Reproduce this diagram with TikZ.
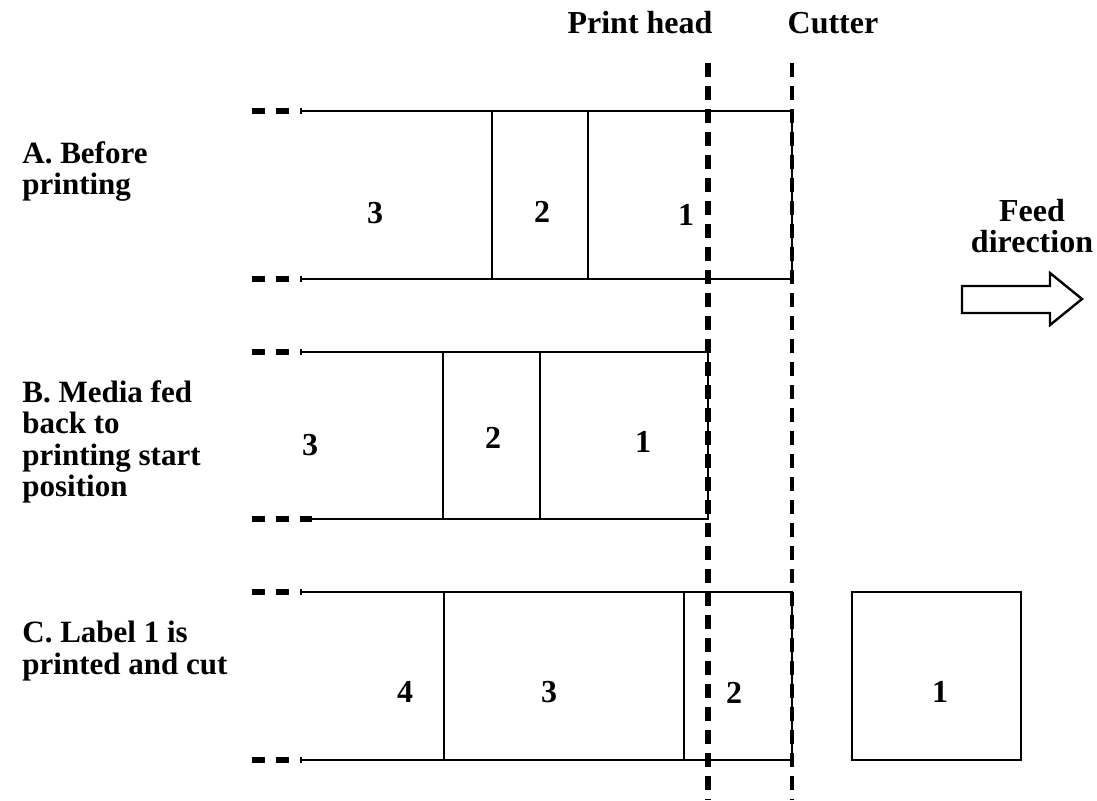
\documentclass[tikz,border=0pt]{standalone}
\usepackage{fontspec}
\setmainfont{Liberation Serif}
\usetikzlibrary{positioning}

\tikzset{
  media/.style={line width=1.2pt},
  leader/.style={line width=3pt, dash pattern=on 6.5pt off 5.5pt},
  headline/.style={line width=3pt, dash pattern=on 7pt off 4.5pt},
  cutline/.style={line width=1.7pt, dash pattern=on 7pt off 4.5pt},
  num/.style={inner sep=0pt, font=\fontsize{16}{15.5}\selectfont\bfseries},
  caption/.style={inner sep=0pt, align=left, font=\fontsize{15.5}{15.75}\selectfont\bfseries}
}

\begin{document}
\begin{tikzpicture}[x=0.5pt, y=-0.5pt]
\useasboundingbox (0,0) rectangle (1097,800);

% headings
\node[num, anchor=base] (head) at (640,33) {Print head};
\node[num, anchor=base] (cut) at (833,33) {Cutter};

% row A
\node[caption, anchor=north west] (capA) at (22,141) {A. Before\\printing};
\draw[leader] (252,111) -- (302,111);
\draw[leader] (252,279) -- (302,279);
\draw[media] (300,111) -- (792,111) -- (792,279) -- (300,279);
\draw[media] (492,111) -- (492,279);
\draw[media] (588,111) -- (588,279);
\node[num] (a3) at (375,213) {3};
\node[num] (a2) at (542,212) {2};
\node[num] (a1) at (686,215) {1};

% row B
\node[caption, anchor=north west] (capB) at (22,380) {B. Media fed\\back to\\printing start\\position};
\draw[leader] (252,352) -- (302,352);
\draw[leader] (252,519) -- (312,519);
\draw[media] (300,352) -- (708,352) -- (708,519) -- (300,519);
\draw[media] (443,352) -- (443,519);
\draw[media] (540,352) -- (540,519);
\node[num] (b3) at (310,445) {3};
\node[num] (b2) at (493,438) {2};
\node[num] (b1) at (643,442) {1};

% row C
\node[caption, anchor=north west] (capC) at (22,621) {C. Label 1 is\\printed and cut};
\draw[leader] (252,592) -- (302,592);
\draw[leader] (252,760) -- (302,760);
\draw[media] (300,592) -- (792,592) -- (792,760) -- (300,760);
\draw[media] (444,592) -- (444,760);
\draw[media] (684,592) -- (684,760);
\node[num] (c4) at (405,692) {4};
\node[num] (c3) at (549,692) {3};
\node[num] (c2) at (734,693) {2};
\draw[media] (852,592) rectangle (1021,760);
\node[num] (c1) at (940,692) {1};

% print head and cutter
\coordinate (headtop) at (708,63);
\coordinate (headbot) at (708,800);
\coordinate (cuttop) at (792,63);
\coordinate (cutbot) at (792,800);
\draw[headline] (headtop) -- (headbot);
\draw[cutline] (cuttop) -- (cutbot);

% feed direction
\node[num, align=center, anchor=base] (feed) at (1032,252) {Feed\\direction};
\draw[media] (962,286) -- (1050,286) -- (1050,273) -- (1082,299)
  -- (1050,325) -- (1050,313) -- (962,313) -- cycle;
\end{tikzpicture}
\end{document}
